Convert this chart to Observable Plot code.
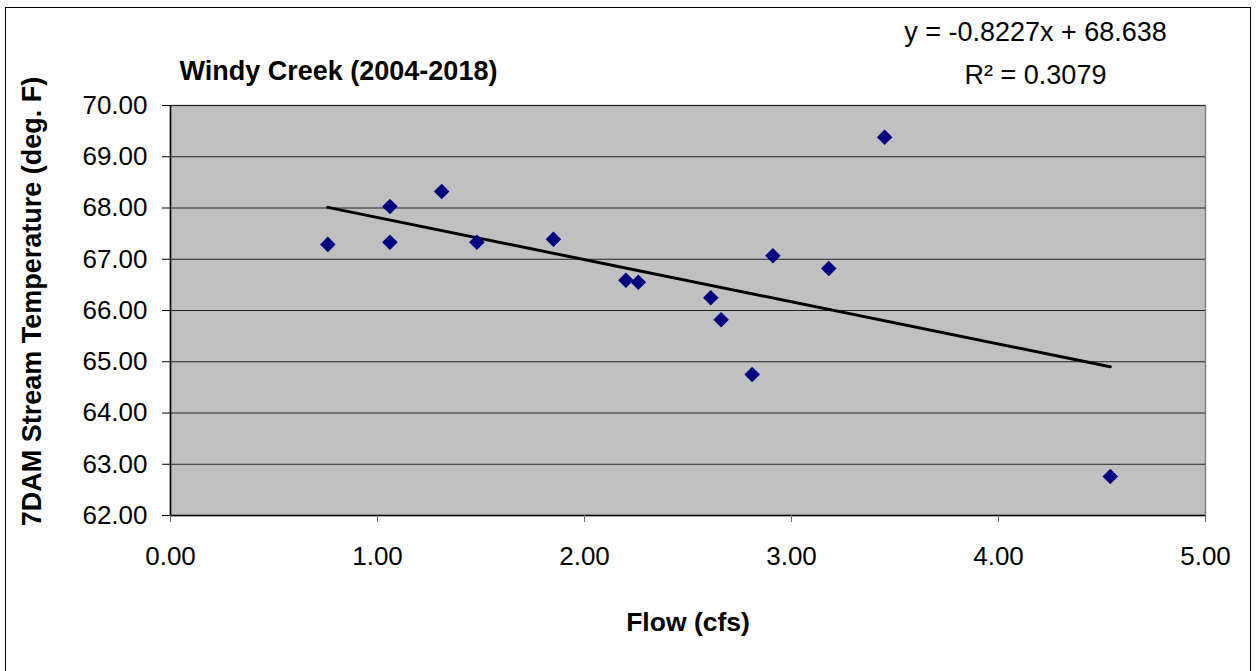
<!DOCTYPE html>
<html>
<head>
<meta charset="utf-8">
<script src="https://cdn.jsdelivr.net/npm/d3@7"></script>
<script src="https://cdn.jsdelivr.net/npm/@observablehq/plot@0.6"></script>
<style>
  body { margin: 0; background: white; }
  #wrap { position: relative; width: 1256px; height: 671px; overflow: hidden; }
  #border { position: absolute; left: 5px; top: 7px; width: 1244px; height: 700px; border: 1.5px solid #000; pointer-events: none; }
</style>
</head>
<body>
<div id="wrap"><div id="border"></div></div>
<script>
// Windy Creek flow vs 7DAM stream temperature
const flow = [0.76, 1.06, 1.06, 1.31, 1.48, 1.85, 2.20, 2.26, 2.61, 2.66, 2.81, 2.91, 3.18, 3.45, 4.54]
const temp = [67.29, 68.03, 67.33, 68.32, 67.33, 67.39, 66.59, 66.55, 66.25, 65.82, 64.75, 67.07, 66.82, 69.38, 62.76]

// trendline from the chart's own equation
const slope = -0.8227
const intercept = 68.638
const rSquared = 0.3079

const xTicks = [0, 1, 2, 3, 4, 5]
const yTicks = [62, 63, 64, 65, 66, 67, 68, 69, 70]

const points = flow.map((f, i) => ({flow: f, temp: temp[i]}))
const trend = [d3.min(flow), d3.max(flow)].map(f => ({flow: f, temp: slope * f + intercept}))

const font = "Liberation Sans, Arial, sans-serif"

const chart = Plot.plot({
  width: 1256,
  height: 671,
  marginLeft: 170,
  marginRight: 51,
  marginTop: 105,
  marginBottom: 156,
  x: {domain: [0, 5], label: null},
  y: {domain: [62, 70], label: null},
  style: {fontFamily: font, fontSize: "26px", background: "transparent", color: "black", overflow: "visible"},
  marks: [
    Plot.frame({fill: "#c0c0c0", stroke: "#808080", strokeWidth: 1.5}),
    Plot.gridY(yTicks, {stroke: "#222", strokeOpacity: 1, strokeWidth: 1.2}),
    Plot.ruleX([0], {stroke: "#000", strokeWidth: 1.5}),
    Plot.ruleY([62], {stroke: "#000", strokeWidth: 1.5}),
    Plot.axisY({ticks: yTicks, tickFormat: d => d.toFixed(2), tickSize: 8, tickPadding: 15, fontSize: 26, label: null}),
    Plot.axisX({ticks: xTicks, tickFormat: d => d.toFixed(2), tickSize: 7, tickPadding: 24, fontSize: 26, stroke: "#666", label: null}),
    Plot.line(trend, {x: "flow", y: "temp", stroke: "#000", strokeWidth: 3}),
    Plot.dot(points, {x: "flow", y: "temp", symbol: "diamond2", r: 7, fill: "#000080", stroke: "none"}),
    Plot.text(["Windy Creek (2004-2018)"], {frameAnchor: "top-left", dx: 9, dy: -34, textAnchor: "start", lineAnchor: "middle", fontWeight: "bold", fontSize: 27}),
    Plot.text([`y = ${slope}x + ${intercept}`], {frameAnchor: "top-right", dx: -170, dy: -73, textAnchor: "middle", lineAnchor: "middle", fontSize: 27}),
    Plot.text([`R\u00b2 = ${rSquared}`], {frameAnchor: "top-right", dx: -170, dy: -30, textAnchor: "middle", lineAnchor: "middle", fontSize: 27}),
    Plot.text(["Flow (cfs)"], {frameAnchor: "bottom", dy: 107, textAnchor: "middle", lineAnchor: "middle", fontWeight: "bold", fontSize: 26.5}),
    Plot.text(["7DAM Stream Temperature (deg. F)"], {frameAnchor: "left", dx: -138, dy: -9, rotate: -90, textAnchor: "middle", lineAnchor: "middle", fontWeight: "bold", fontSize: 27})
  ]
})

document.getElementById("wrap").prepend(chart)
</script>
</body>
</html>
